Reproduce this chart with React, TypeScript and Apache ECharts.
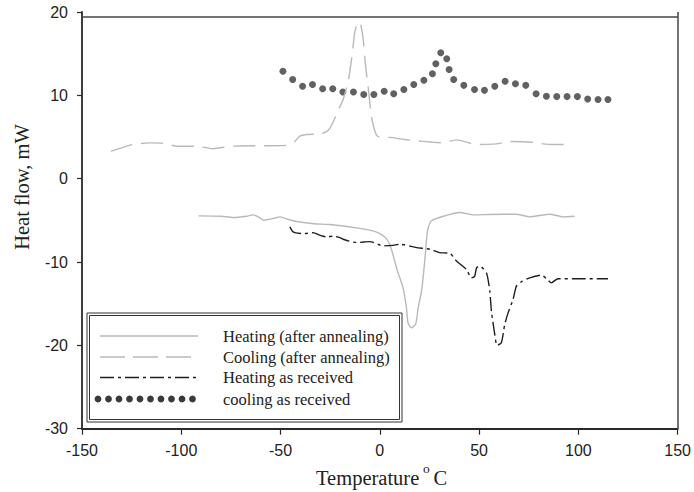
import React, { useEffect, useRef } from "react";
import * as echarts from "echarts";

const xTicks = [-150, 150, 50];
const yTicks = [-30, 20, 10];

const heatingAnnealed: [number, number][] = [
  [-91.4, -4.46], [-80, -4.5], [-73.8, -4.66], [-67, -4.5], [-63.8, -4.34], [-61, -4.6], [-58.7, -4.98],
  [-54, -4.8], [-50.3, -4.58], [-46, -4.9], [-41.9, -5.14], [-33, -5.4], [-25.2, -5.5], [-11.7, -5.9],
  [-3, -6.3], [0, -6.6], [3, -7.1], [5, -7.9], [6.5, -9.0], [7.5, -9.9], [9.2, -11.3], [11.7, -13.1],
  [13.4, -15.5], [14.2, -17.3], [15.9, -17.9], [18.1, -17.4], [19.3, -15.5], [21.0, -13.5], [22.3, -10.7],
  [23.2, -8.3], [24.0, -6.3], [26.0, -5.06], [32.7, -4.46], [40.3, -4.06], [47, -4.34], [55, -4.3],
  [68.8, -4.26], [75.5, -4.58], [85.6, -4.26], [92.3, -4.58], [98.1, -4.5],
];

const coolingAnnealed: [number, number][] = [
  [-135.4, 3.3], [-130, 3.7], [-124.3, 4.1], [-116, 4.3], [-109.2, 4.25], [-102.3, 3.9], [-93, 3.9],
  [-84, 3.6], [-74, 3.9], [-60, 3.95], [-47, 4.0], [-43.6, 4.3], [-40.3, 5.1], [-36.9, 5.3], [-29.3, 5.4],
  [-26, 5.8], [-23.5, 6.8], [-21, 8.2], [-18.5, 9.5], [-16.0, 11.6], [-14.2, 14.4], [-12.6, 17.6],
  [-11.4, 18.6], [-10.5, 18.8], [-9.7, 18.6], [-8.4, 16.8], [-7.2, 13.6], [-5.6, 10.4], [-4.2, 7.4], [-1.7, 5.2],
  [0, 5.0], [5, 4.95], [10.1, 4.78], [16.8, 4.58], [26.8, 4.37], [31.9, 4.3], [38.6, 4.66], [48.7, 4.1],
  [58.7, 4.18], [65.4, 4.46], [77.2, 4.37], [82.2, 4.18], [87.2, 4.1], [96.5, 4.1],
];

const heatingReceived: [number, number][] = [
  [-45.3, -5.78], [-44, -6.3], [-42.8, -6.47], [-38, -6.6], [-33.6, -6.47], [-30, -6.8], [-26.8, -6.99],
  [-23.5, -6.9], [-20.1, -7.07], [-18.5, -7.27], [-11.7, -7.67], [-8, -7.6], [-5.0, -7.55], [1.7, -8.07],
  [6.7, -8.0], [10.1, -7.87], [18.5, -8.27], [25.2, -8.47], [30.2, -8.88], [35.2, -8.95], [38.6, -9.88],
  [43.6, -10.88], [46.1, -11.9], [47.8, -11.7], [48.7, -10.7], [50.3, -10.48], [53.7, -11.3], [55.4, -13.5],
  [56.2, -15.9], [57.9, -18.7], [59.0, -20.0], [61.2, -19.7], [62.9, -17.5], [64.6, -16.1], [67.1, -14.5],
  [68.8, -12.9], [71.8, -12.3], [75.5, -11.9], [81.4, -11.57], [84, -12.0], [86.4, -12.5], [89.7, -12.0],
  [97.3, -12.0], [114.9, -12.0],
];

const coolingReceivedX = [
  -48.8, -43.9, -38.9, -33.9, -28.8, -23.7, -18.6, -13.3, -8.1, -3.0, 2.2, 7.0, 12.1, 17.1, 22.2, 26.5,
  28.2, 30.7, 33.7, 34.9, 37.2, 42.3, 47.7, 52.7, 57.9, 63.1, 68.3, 73.5, 78.7, 83.9, 89.1, 94.3, 99.5,
  104.7, 109.9, 114.9,
];
const coolingReceivedY = [
  12.9, 11.9, 11.1, 11.3, 10.8, 10.8, 10.4, 10.4, 10.1, 10.1, 10.5, 10.2, 10.7, 11.3, 11.8, 12.6,
  13.8, 15.1, 14.4, 13.1, 11.9, 11.2, 10.7, 10.6, 11.1, 11.7, 11.4, 11.2, 10.2, 9.9, 9.85, 9.85, 9.85,
  9.55, 9.5, 9.5,
];

const legendLabels = [
  "Heating (after annealing)",
  "Cooling (after annealing)",
  "Heating as received",
  "cooling as received",
];

const LIGHT = "#b9b9b9";
const DARK = "#1e1e1e";
const DOT = "#3a3a3a";
const SERIF = '"Liberation Serif", "Times New Roman", serif';
const SANS = '"Liberation Sans", Arial, sans-serif';

export default function App() {
  const ref = useRef<HTMLDivElement>(null);
  useEffect(() => {
    if (!ref.current) return;
    const chart = echarts.init(ref.current, null, { renderer: "svg" });
    const rowsY = [336, 357, 377.5, 399];
    const legendGraphics: any[] = [
      { type: "rect", shape: { x: 87, y: 313, width: 315, height: 109 }, style: { fill: "#fff", stroke: "#333", lineWidth: 1 }, z: 10 },
      { type: "rect", shape: { x: 89.5, y: 315.5, width: 310, height: 104 }, style: { fill: "none", stroke: "#333", lineWidth: 1 }, z: 11 },
      { type: "line", shape: { x1: 100, y1: rowsY[0], x2: 198, y2: rowsY[0] }, style: { stroke: LIGHT, lineWidth: 1.4 }, z: 11 },
      { type: "line", shape: { x1: 100, y1: rowsY[1], x2: 198, y2: rowsY[1] }, style: { stroke: LIGHT, lineWidth: 1.4, lineDash: [25, 8] }, z: 11 },
      { type: "line", shape: { x1: 100, y1: rowsY[2], x2: 198, y2: rowsY[2] }, style: { stroke: DARK, lineWidth: 1.4, lineDash: [14, 4, 3, 4] }, z: 11 },
    ];
    for (let i = 0; i < 10; i++) {
      legendGraphics.push({ type: "circle", shape: { cx: 98 + i * 10.5, cy: rowsY[3], r: 3.4 }, style: { fill: DOT }, z: 11 });
    }
    legendLabels.forEach((t, i) => {
      legendGraphics.push({
        type: "text", x: 223, y: rowsY[i], z: 11,
        style: { text: t, font: `16.5px ${SERIF}`, fill: "#222", textAlign: "left", textVerticalAlign: "middle", align: "left", verticalAlign: "middle" },
      });
    });
    const option: any = {
      animation: false,
      backgroundColor: "#fff",
      grid: { left: 82, right: 16, top: 12, bottom: 63.3, containLabel: false },
      xAxis: {
        type: "value", min: xTicks[0], max: xTicks[1], interval: xTicks[2],
        splitLine: { show: false },
        axisLine: { show: true, onZero: false, lineStyle: { color: "#2a2a2a", width: 1.8 } },
        axisTick: { show: true, length: 6, lineStyle: { color: "#2a2a2a", width: 1.2 } },
        axisLabel: { fontFamily: SANS, fontSize: 16, color: "#222", margin: 14 },
      },
      yAxis: {
        type: "value", min: yTicks[0], max: yTicks[1], interval: yTicks[2],
        splitLine: { show: false },
        axisLine: { show: true, onZero: false, lineStyle: { color: "#2a2a2a", width: 1.8 } },
        axisTick: { show: true, length: 5, lineStyle: { color: "#2a2a2a", width: 1.2 } },
        axisLabel: { fontFamily: SANS, fontSize: 16, color: "#222", margin: 14 },
      },
      series: [
        { name: legendLabels[0], type: "line", data: heatingAnnealed, showSymbol: false, smooth: 0.2, lineStyle: { color: LIGHT, width: 1.4 } },
        { name: legendLabels[1], type: "line", data: coolingAnnealed, showSymbol: false, smooth: 0.2, lineStyle: { color: LIGHT, width: 1.4, type: [22, 9] } },
        { name: legendLabels[2], type: "line", data: heatingReceived, showSymbol: false, smooth: 0.2, lineStyle: { color: DARK, width: 1.4, type: [14, 4, 3, 4] } },
        { name: legendLabels[3], type: "scatter", data: coolingReceivedX.map((x, i) => [x, coolingReceivedY[i]]), symbolSize: 7, itemStyle: { color: DOT } },
      ],
      graphic: [
        { type: "line", shape: { x1: 82, y1: 17, x2: 678, y2: 17 }, style: { stroke: "#444", lineWidth: 1.5 }, z: 5 },
        { type: "line", shape: { x1: 678, y1: 12, x2: 678, y2: 429 }, style: { stroke: "#444", lineWidth: 1.5 }, z: 5 },
        ...legendGraphics,
        { type: "text", x: 316, y: 478, style: { text: "Temperature", font: `20.5px ${SERIF}`, fill: "#222", textAlign: "left", textVerticalAlign: "middle", align: "left", verticalAlign: "middle" } },
        { type: "text", x: 423, y: 468, style: { text: "o", font: `13.5px ${SERIF}`, fill: "#222", textAlign: "left", textVerticalAlign: "middle", align: "left", verticalAlign: "middle" } },
        { type: "text", x: 433.5, y: 478, style: { text: "C", font: `20.5px ${SERIF}`, fill: "#222", textAlign: "left", textVerticalAlign: "middle", align: "left", verticalAlign: "middle" } },
        { type: "text", x: 22, y: 187, rotation: Math.PI / 2, style: { text: "Heat flow, mW", font: `20.5px ${SERIF}`, fill: "#222", textAlign: "center", textVerticalAlign: "middle", align: "center", verticalAlign: "middle" } },
      ],
    };
    chart.setOption(option);
    return () => chart.dispose();
  }, []);
  return <div ref={ref} style={{ width: 694, height: 492, position: "absolute", left: 0, top: 0 }} />;
}
